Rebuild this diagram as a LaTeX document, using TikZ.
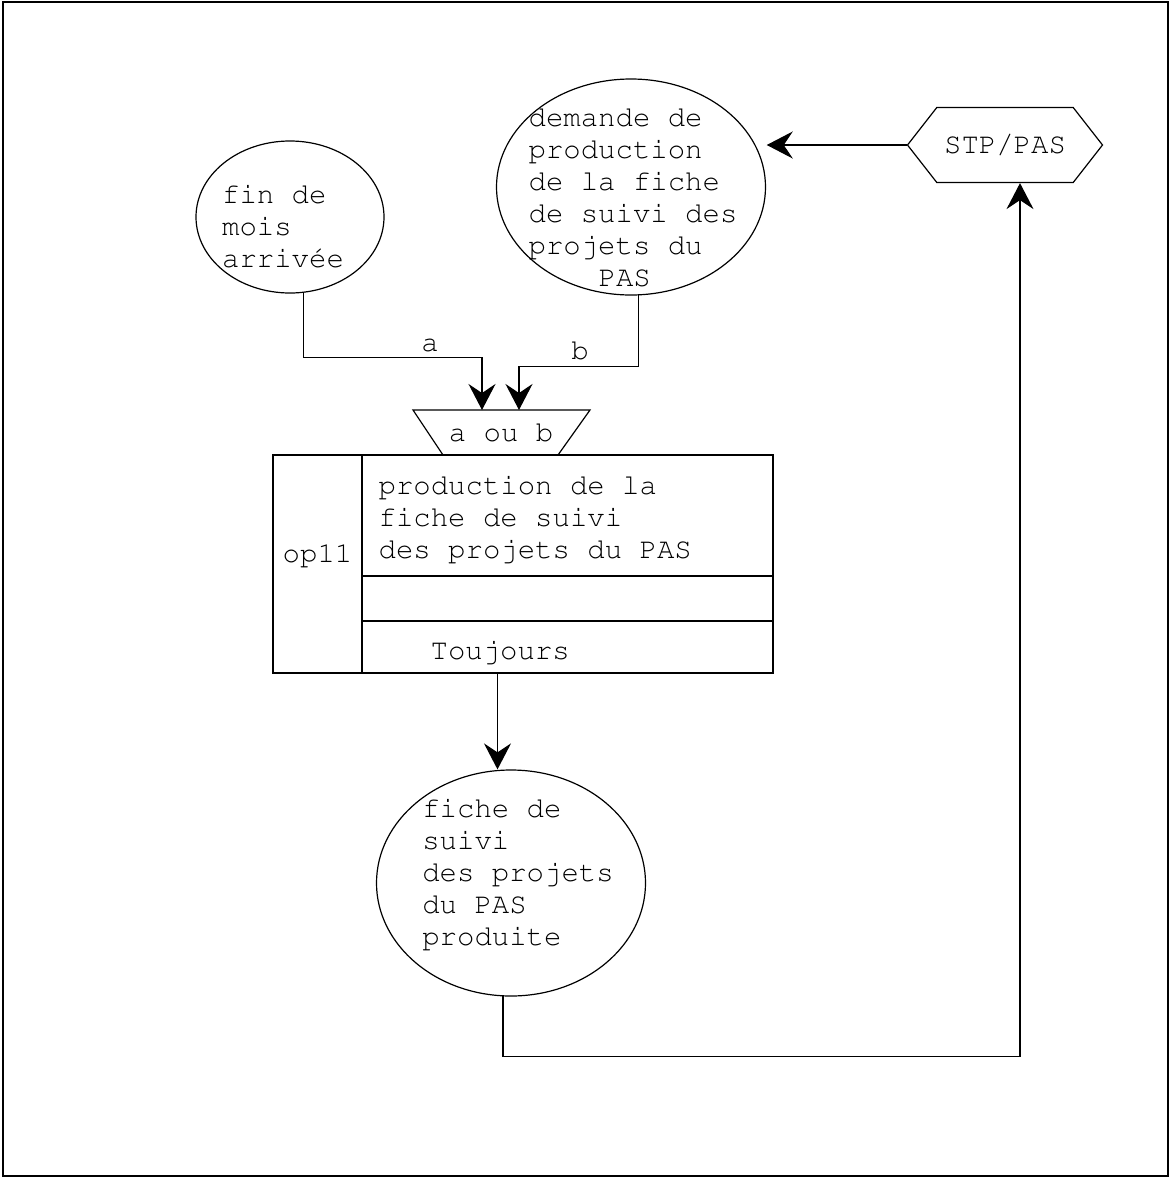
\documentclass[tikz,border=0pt]{standalone}
\usepackage[T1]{fontenc}
\usetikzlibrary{arrows.meta,shapes.geometric,shapes.symbols}
\newcommand{\diagfont}{\fontfamily{pcr}\fontseries{m}\selectfont\fontsize{29}{32}\selectfont}
\begin{document}
\begin{tikzpicture}[x=1pt,y=-1pt,line width=1.2pt,
  every node/.style={font=\diagfont,inner sep=0pt},
  bubble/.style={draw,ellipse},
  txt/.style={align=left},
  cell/.style={draw,rectangle,anchor=north west,outer sep=0pt},
  flow/.style={-{Stealth[length=26pt,width=27pt,inset=9pt]}}]
  \useasboundingbox (0,0) rectangle (1172,1179);
  \draw (3,2) rectangle (1168,1176);
  % evenements
  \node[bubble,minimum width=188,minimum height=152] (e1) at (290,217) {};
  \node[txt] (e1t) at ([shift={(-7,9)}]e1) {fin de\\mois\\arriv\'ee};
  \node[bubble,minimum width=269,minimum height=216] (e2) at (631,187) {};
  \node[txt] (e2t) at ([shift={(2,10)}]e2) {demande de\\production\\de la fiche\\de suivi des\\projets du\\\hspace*{70pt}PAS};
  \node[signal,signal to=east and west,signal pointer angle=104,draw,
    minimum width=195,minimum height=75] (stp) at (1005,145) {STP/PAS};
  % synchronisation
  \node (sync) at (501,432) {a ou b};
  \draw (sync.center) ++(-88,-22) -- ++(177,0) -- ++(-32,45) -- ++(-115,0) -- cycle;
  % operation
  \node[cell,minimum width=89,minimum height=218] (opcell) at (273,455) {};
  \node (opname) at ([yshift=9pt]opcell.center) {op11};
  \node[cell,minimum width=411,minimum height=121] (task) at (opcell.north east) {};
  \node[txt,anchor=west] (taskt) at ([shift={(16,4)}]task.west) {production de la\\fiche de suivi\\des projets du PAS};
  \node[cell,minimum width=411,minimum height=45] (blank) at (task.south west) {};
  \node[cell,minimum width=411,minimum height=52] (cond) at (blank.south west) {};
  \node[anchor=west] (condt) at ([shift={(68,5)}]cond.west) {Toujours};
  \node[bubble,minimum width=269,minimum height=226] (e3) at (511,883) {};
  \node[txt] (e3t) at ([shift={(7,-9)}]e3) {fiche de\\suivi\\des projets\\du PAS\\produite};
  % liaisons
  \coordinate (ina) at ([shift={(-19,-22)}]sync.center);
  \coordinate (inb) at ([shift={(18,-22)}]sync.center);
  \draw[flow] (e1.-80) -- ++(0,65) -| (ina);
  \node (la) at (430,345) {a};
  \draw[flow] (e2.-86) -- ++(0,71) -| (inb);
  \node (lb) at (580,350) {b};
  \draw[flow] (stp.west) -- ++(-140,0);
  \draw[flow] ([xshift=-70pt]cond.south) -- ([xshift=-70pt]cond.south |- e3.north);
  \draw[flow] (e3.-94) -- ++(0,60) -| ([xshift=15pt]stp.south);
\end{tikzpicture}
\end{document}
